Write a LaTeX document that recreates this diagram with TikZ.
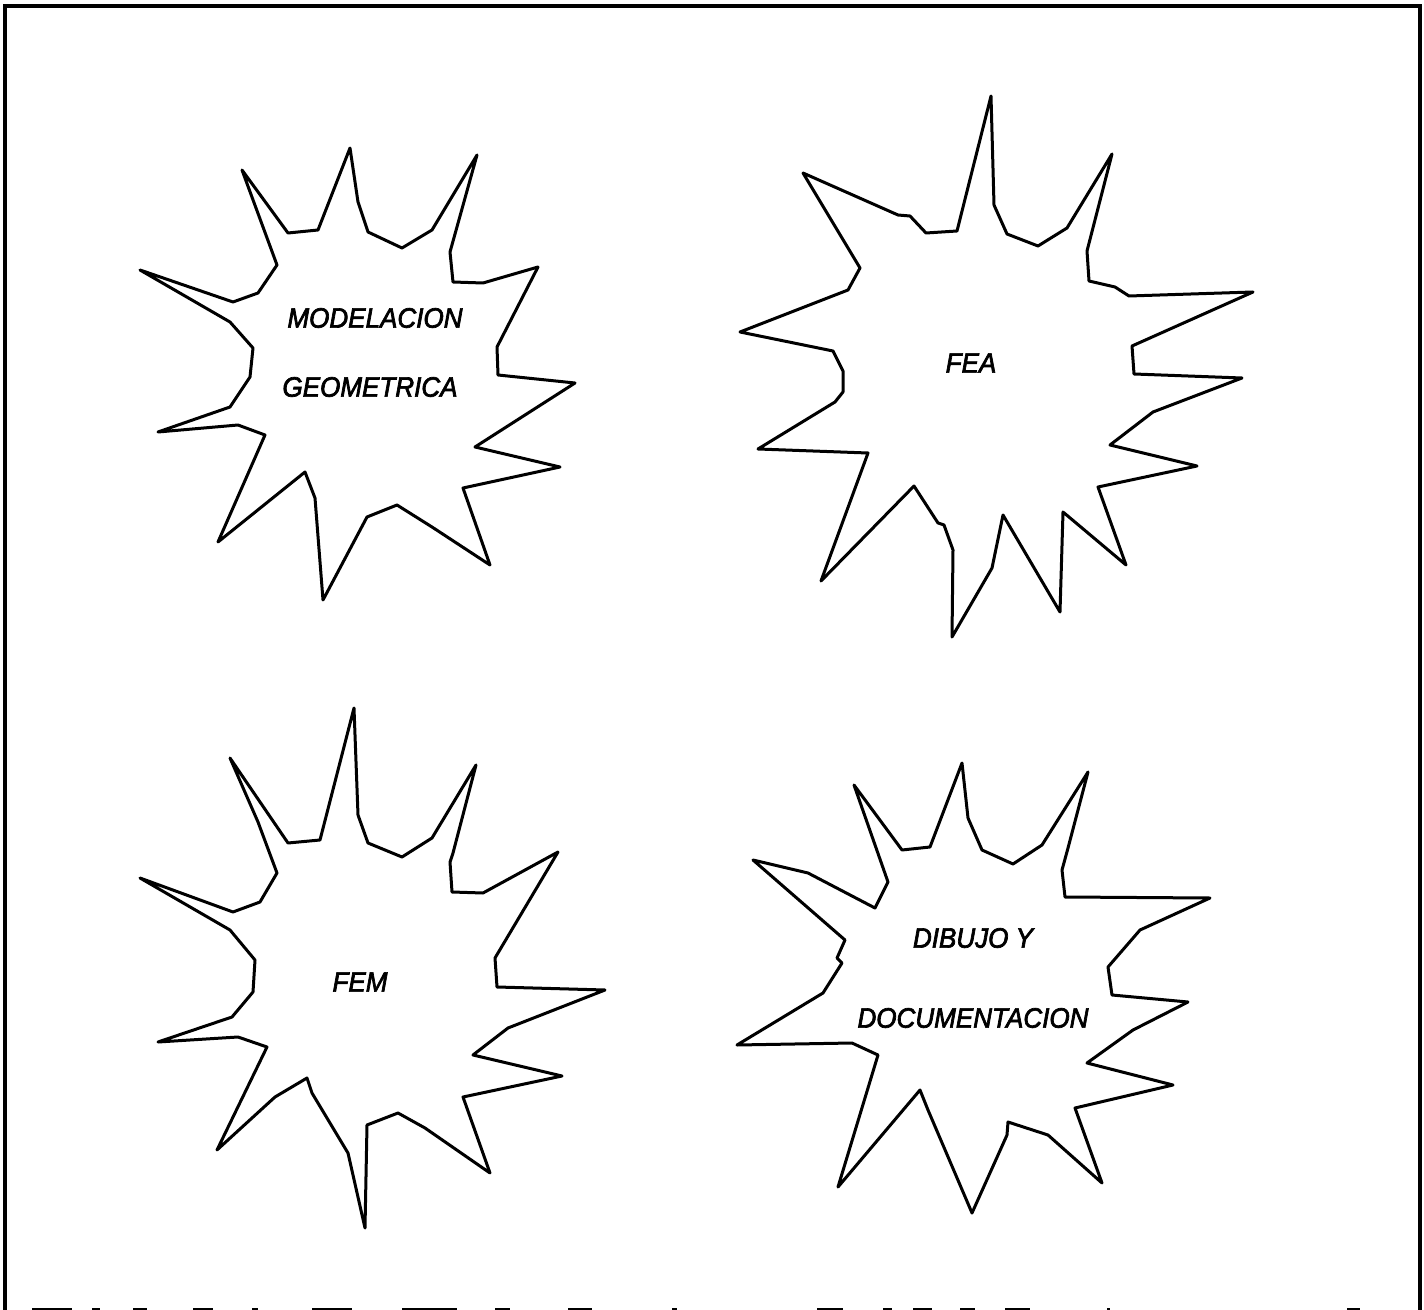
\documentclass[tikz,border=0pt]{standalone}
\usepackage{fontspec}
\newfontfamily\plotfont[FakeStretch=0.93, FakeBold=2.5]{Liberation Sans}
\usetikzlibrary{math}

\begin{document}
\begin{tikzpicture}[x=0.5pt, y=-0.5pt,
  burst/.style={line width=1.5pt, line join=round},
  frame/.style={line width=1.6pt},
  lbl/.style={inner sep=0pt, font=\plotfont\itshape\fontsize{14}{14}\selectfont}]

\tikzmath{
\picw = 1424;
\pich = 1310;
\fl = 5; %frame left
\ft = 6; %frame top
\fr = 1420; %frame right
}

\useasboundingbox (0,0) rectangle (\picw,\pich);

%frame:
\draw[frame] (\fl,\pich) -- (\fl,\ft) -- (\fr,\ft) -- (\fr,\pich);
%bottom edge, mostly cut off
\foreach \xa/\xb in {32/72,92/100,133/147,193/213,252/258,312/352,402/457,495/510,568/592,672/677,817/843,883/892,913/932,960/975,1005/1030,1107/1110,1347/1360}
  \draw[line width=1pt] (\xa,1309) -- (\xb,1309);

%star 1:
\draw[burst] (242,170) -- (288,233) -- (318,230) -- (350,148) -- (358,202)
  -- (368,232) -- (402,248) -- (432,230) -- (477,155) -- (450,252) -- (453,282)
  -- (483,283) -- (538,267) -- (497,347) -- (498,375) -- (575,383) -- (475,447)
  -- (560,467) -- (463,488) -- (490,565) -- (432,527) -- (397,505) -- (367,517)
  -- (323,600) -- (315,498) -- (305,472) -- (218,542) -- (265,435) -- (238,425)
  -- (158,432) -- (230,407) -- (250,377) -- (253,348) -- (230,322) -- (140,270)
  -- (233,302) -- (258,293) -- (277,265) -- cycle;
\node[lbl] (modelacion) at (375,318) {MODELACION};
\node[lbl] (geometrica) at (370,387) {GEOMETRICA};

%star 2:
\draw[burst] (991,96) -- (994,205) -- (1007,234) -- (1038,246) -- (1067,228)
  -- (1112,154) -- (1087,251) -- (1089,281) -- (1115,287) -- (1129,296)
  -- (1253,292) -- (1132,346) -- (1134,374) -- (1242,378) -- (1153,412)
  -- (1110,445) -- (1197,466) -- (1098,487) -- (1126,565) -- (1063,512)
  -- (1060,612) -- (1003,515) -- (992,568) -- (952,637) -- (953,550) -- (944,525)
  -- (938,523) -- (914,486) -- (821,581) -- (868,453) -- (758,449) -- (835,402)
  -- (843,392) -- (843,371) -- (833,351) -- (740,332) -- (848,290) -- (860,268)
  -- (803,173) -- (898,215) -- (910,216) -- (926,233) -- (957,231) -- cycle;
\node[lbl] (fea) at (971,363) {FEA};

%star 3:
\draw[burst] (230,758) -- (288,843) -- (320,840) -- (354,708) -- (358,815)
  -- (368,843) -- (402,857) -- (432,838) -- (476,765) -- (453,853) -- (450,862)
  -- (452,892) -- (483,893) -- (558,852) -- (495,958) -- (497,987) -- (605,990)
  -- (508,1028) -- (473,1055) -- (562,1076) -- (463,1097) -- (490,1173)
  -- (425,1128) -- (398,1113) -- (367,1125) -- (365,1228) -- (348,1153)
  -- (312,1093) -- (307,1078) -- (275,1097) -- (217,1150) -- (267,1047)
  -- (238,1037) -- (158,1042) -- (232,1017) -- (253,992) -- (255,960)
  -- (230,930) -- (140,878) -- (233,912) -- (260,902) -- (277,873) -- (258,822)
  -- cycle;
\node[lbl] (fem) at (360,982) {FEM};

%star 4:
\draw[burst] (854,785) -- (902,850) -- (930,847) -- (962,763) -- (968,818)
  -- (982,850) -- (1013,864) -- (1042,845) -- (1088,772) -- (1068,848)
  -- (1062,870) -- (1065,897) -- (1210,898) -- (1140,930) -- (1108,967)
  -- (1112,995) -- (1188,1002) -- (1133,1030) -- (1087,1063) -- (1173,1085)
  -- (1075,1108) -- (1102,1183) -- (1048,1135) -- (1008,1122) -- (1007,1135)
  -- (972,1213) -- (928,1110) -- (920,1090) -- (838,1187) -- (878,1055)
  -- (852,1043) -- (737,1045) -- (823,993) -- (842,963) -- (837,958)
  -- (845,940) -- (753,860) -- (808,873) -- (875,908) -- (888,882) -- cycle;
\node[lbl] (dibujo) at (973,938) {DIBUJO Y};
\node[lbl] (documentacion) at (973,1018) {DOCUMENTACION};

\end{tikzpicture}
\end{document}
